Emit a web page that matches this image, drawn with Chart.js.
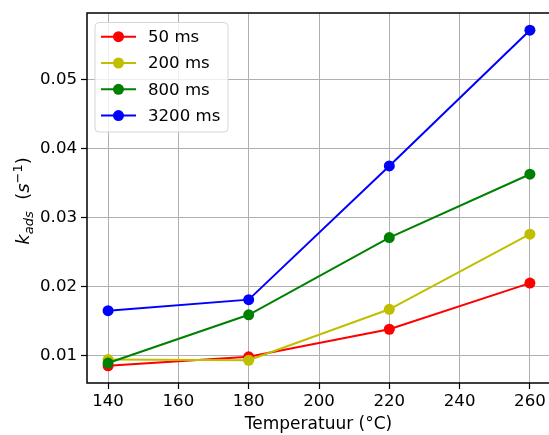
<!DOCTYPE html>
<html>
<head>
<meta charset="utf-8">
<script src="https://cdn.jsdelivr.net/npm/chart.js@4.4.1/dist/chart.umd.min.js"></script>
<style>
  html, body { margin: 0; padding: 0; background: #fff; overflow: hidden; }
  #wrap { width: 552px; height: 435px; }
  #kadsChart { display: block; width: 552px; height: 435px; }
</style>
</head>
<body>
<div id="wrap"><canvas id="kadsChart" width="552" height="435"></canvas></div>
<script>
// adsorption rate constant vs temperature, one series per pulse length
var temps = [140, 180, 220, 260];
var k50 = [0.0085, 0.0098, 0.0138, 0.0205];
var k200 = [0.0094, 0.0093, 0.0167, 0.0276];
var k800 = [0.0089, 0.0159, 0.0271, 0.0363];
var k3200 = [0.0165, 0.0181, 0.0375, 0.0572];

var seriesLabels = ['50 ms', '200 ms', '800 ms', '3200 ms'];
var seriesColors = ['#ff0000', '#bfbf00', '#008000', '#0000ff'];
var seriesValues = [k50, k200, k800, k3200];

var xTicks = [140, 160, 180, 200, 220, 240, 260];
var yTicks = [0.01, 0.02, 0.03, 0.04, 0.05];

var FONT = '"DejaVu Sans", sans-serif';
var FS = 16.6;

function toPoints(vals) {
    return vals.map(function (v, i) { return { x: temps[i], y: v }; });
}

var datasets = seriesValues.map(function (vals, i) {
    return {
        label: seriesLabels[i],
        data: toPoints(vals),
        borderColor: seriesColors[i],
        backgroundColor: seriesColors[i],
        borderWidth: 2,
        pointRadius: 5.5,
        pointHoverRadius: 5.5,
        pointBorderWidth: 0,
        tension: 0,
        // later series sit on top
        order: seriesValues.length - i
    };
});

// frame, axis titles and legend box
var decorations = {
    id: 'decorations',
    afterDatasetsDraw: function (chart) {
        var ctx = chart.ctx;
        var a = chart.chartArea;
        ctx.save();
        ctx.strokeStyle = '#000';
        ctx.lineWidth = 1.5;
        ctx.strokeRect(a.left, a.top, a.right - a.left, a.bottom - a.top);
        ctx.restore();
    },
    afterDraw: function (chart) {
        var ctx = chart.ctx;

        // x title
        ctx.save();
        ctx.fillStyle = '#000';
        ctx.font = '17px ' + FONT;
        ctx.textAlign = 'center';
        ctx.textBaseline = 'middle';
        ctx.fillText('Temperatuur (°C)', 318.5, 425);
        ctx.restore();

        // y title: k_ads (s^-1)
        var parts = [
            { t: 'k', font: 'italic 18px ' + FONT, dy: 0 },
            { t: 'ads', font: 'italic 13px ' + FONT, dy: 4 },
            { t: '  (', font: '18px ' + FONT, dy: 0 },
            { t: 's', font: 'italic 18px ' + FONT, dy: 0 },
            { t: '\u22121', font: '13px ' + FONT, dy: -7 },
            { t: ')', font: '18px ' + FONT, dy: 0 }
        ];
        ctx.save();
        ctx.fillStyle = '#000';
        ctx.textBaseline = 'alphabetic';
        var total = 0;
        parts.forEach(function (p) { ctx.font = p.font; p.w = ctx.measureText(p.t).width; total += p.w; });
        ctx.translate(29, 201);
        ctx.rotate(-Math.PI / 2);
        var x = -total / 2;
        parts.forEach(function (p) {
            ctx.font = p.font;
            ctx.fillText(p.t, x, p.dy);
            x += p.w;
        });
        ctx.restore();

        // legend
        var bx = 95, by = 22.5, bw = 133, bh = 109.5;
        ctx.save();
        ctx.beginPath();
        ctx.roundRect(bx, by, bw, bh, 4);
        ctx.fillStyle = 'rgba(255,255,255,0.8)';
        ctx.fill();
        ctx.strokeStyle = '#d6d6d6';
        ctx.lineWidth = 1;
        ctx.stroke();
        ctx.font = FS + 'px ' + FONT;
        ctx.textBaseline = 'middle';
        chart.data.datasets.forEach(function (ds, i) {
            var y = 36.7 + i * 26.3;
            ctx.strokeStyle = ds.borderColor;
            ctx.lineWidth = 2;
            ctx.beginPath();
            ctx.moveTo(101, y);
            ctx.lineTo(136, y);
            ctx.stroke();
            ctx.fillStyle = ds.borderColor;
            ctx.beginPath();
            ctx.arc(118.5, y, 5.5, 0, Math.PI * 2);
            ctx.fill();
            ctx.fillStyle = '#000';
            ctx.fillText(ds.label, 148, y + 1);
        });
        ctx.restore();
    }
};

function fixX(scale) {
    scale.height = 52;
    scale.paddingLeft = 0;
    scale.paddingRight = 0;
}

function fixY(scale) {
    scale.width = 87;
    scale.paddingTop = 0;
    scale.paddingBottom = 0;
}

var ctx = document.getElementById('kadsChart').getContext('2d');
var chart = new Chart(ctx, {
    type: 'line',
    data: { datasets: datasets },
    options: {
        responsive: false,
        animation: false,
        devicePixelRatio: 1,
        layout: { autoPadding: false, padding: { top: 13, right: 1, left: 0, bottom: 0 } },
        plugins: {
            legend: { display: false },
            tooltip: { enabled: false }
        },
        scales: {
            x: {
                type: 'linear',
                min: 134,
                max: 266,
                afterBuildTicks: function (scale) {
                    scale.ticks = xTicks.map(function (v) { return { value: v }; });
                },
                afterFit: fixX,
                border: { display: false },
                grid: { color: '#b0b0b0', lineWidth: 1, tickColor: '#000', tickWidth: 1.2, tickLength: 6 },
                ticks: {
                    color: '#000',
                    font: { family: FONT, size: FS },
                    padding: 3,
                    maxRotation: 0,
                    callback: function (v) { return String(v); }
                }
            },
            y: {
                type: 'linear',
                min: 0.0060,
                max: 0.0597,
                afterBuildTicks: function (scale) {
                    scale.ticks = yTicks.map(function (v) { return { value: v }; });
                },
                afterFit: fixY,
                border: { display: false },
                grid: { color: '#b0b0b0', lineWidth: 1, tickColor: '#000', tickWidth: 1.2, tickLength: 6 },
                ticks: {
                    color: '#000',
                    font: { family: FONT, size: FS },
                    padding: 4,
                    callback: function (v) { return v.toFixed(2); }
                }
            }
        }
    },
    plugins: [decorations]
});
</script>
</body>
</html>
